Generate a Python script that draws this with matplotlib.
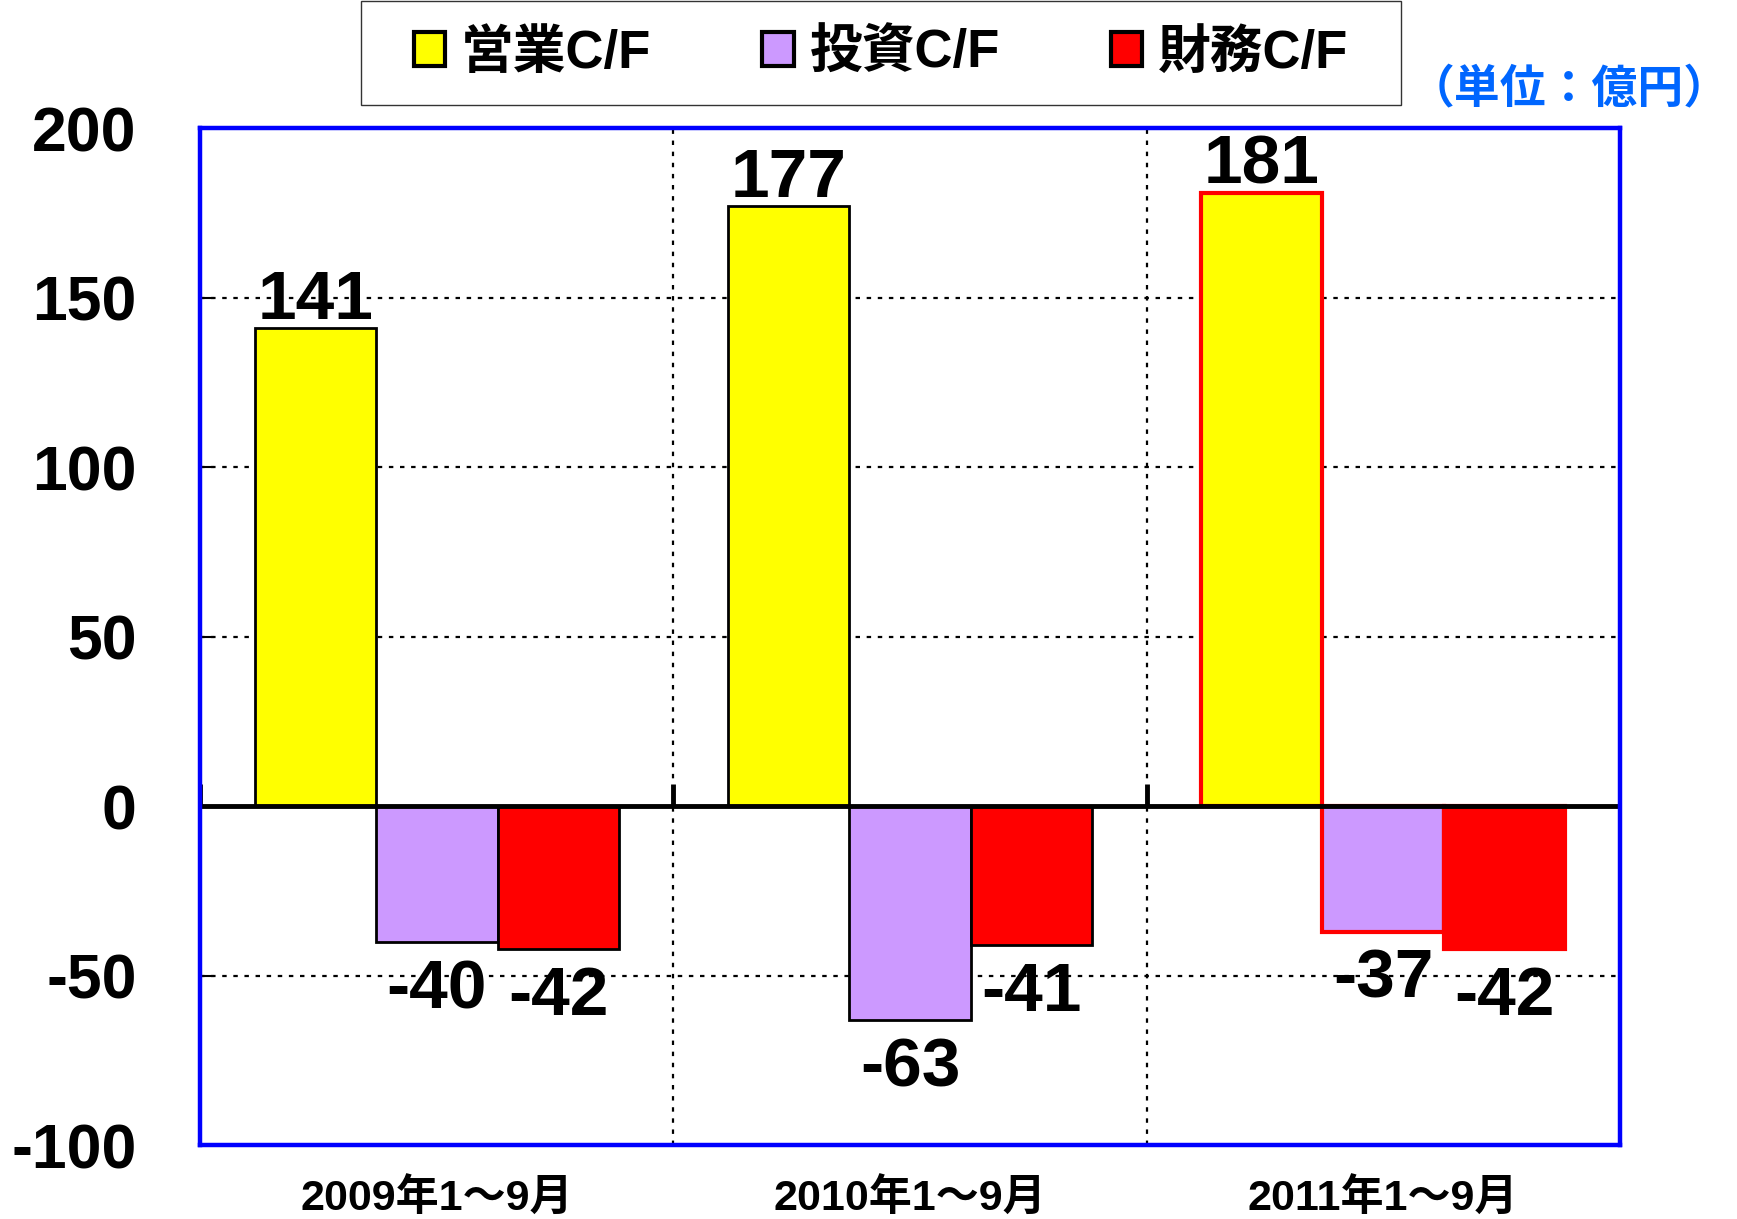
import numpy as np
import matplotlib
matplotlib.use("Agg")
import matplotlib.pyplot as plt
from matplotlib.patches import Patch, Rectangle

plt.rcParams['font.family'] = ['Liberation Sans', 'Noto Sans CJK JP', 'DejaVu Sans']

categories = ["2009年1～9月", "2010年1～9月", "2011年1～9月"]
series_names = ["営業C/F", "投資C/F", "財務C/F"]
operating = [141, 177, 181]
investing = [-40, -63, -37]
financing = [-42, -41, -42]
series_colors = ["#FFFF00", "#CC99FF", "#FF0000"]
edge_colors = ["#000000", "#000000", "#FF0000"]  # per category
yticks = [-100, -50, 0, 50, 100, 150, 200]
unit_label = "（単位：億円）"

fig = plt.figure(figsize=(17.37, 12.19), dpi=100)
ax = fig.add_axes([0.1154, 0.0603, 0.817, 0.8343])

n = len(categories)
centers = np.arange(n) + 0.5
width = 0.257
series = [operating, investing, financing]
offsets = [-width, 0, width]

for si, (vals, col, off) in enumerate(zip(series, series_colors, offsets)):
    for ci, v in enumerate(vals):
        ec = edge_colors[ci]
        lw = 2.0 if ec == "#000000" else 3.0
        ax.bar(centers[ci] + off, v, width=width, color=col, edgecolor=ec,
               linewidth=lw, zorder=3)
        if v >= 0:
            ax.annotate(str(v), (centers[ci] + off, v), xytext=(0, -3.5),
                        textcoords='offset points', ha='center', va='bottom',
                        fontsize=50, fontweight='bold', zorder=5)
        else:
            ax.annotate(str(v), (centers[ci] + off, v), xytext=(0, -11.5),
                        textcoords='offset points', ha='center', va='top',
                        fontsize=50, fontweight='bold', zorder=5)

ax.set_xlim(0, n)
ax.set_ylim(yticks[0], yticks[-1])
ax.set_yticks(yticks)
ax.set_yticklabels([str(t) for t in yticks], fontsize=45, fontweight='bold')
ax.tick_params(axis='y', direction='in', length=10, width=1.5, color='black', pad=46)

ax.set_xticks(centers)
ax.set_xticklabels(categories, fontsize=31, fontweight='bold')
ax.tick_params(axis='x', length=0, pad=24)

# gridlines
for t in yticks:
    if t not in (0, yticks[0], yticks[-1]):
        ax.axhline(t, color='black', linestyle=(0, (2, 3)), linewidth=1.6, zorder=1)
for b in np.arange(1, n):
    ax.axvline(b, color='black', linestyle=(0, (2, 3)), linewidth=1.6, zorder=1)

# zero line with small ticks
ax.axhline(0, color='black', linewidth=3.5, zorder=4)
ax.vlines(np.arange(0, n + 1), 0, 6.5, color='black', linewidth=3.5, zorder=4)

for s in ax.spines.values():
    s.set_color('#0000FF')
    s.set_linewidth(3.2)
    s.set_zorder(6)

# legend frame
fig.patches.append(Rectangle((0.2078, 0.9139), 0.5988, 0.0855, transform=fig.transFigure,
                             facecolor='white', edgecolor='#333333', linewidth=1.0,
                             zorder=0))
handles = [Patch(facecolor=c, edgecolor='black', linewidth=3) for c in series_colors]
leg = fig.legend(handles, series_names, loc='center',
                 bbox_to_anchor=(0.5072, 0.956),
                 ncol=3, frameon=False,
                 handlelength=0.6, handleheight=0.6, handletextpad=0.3,
                 borderaxespad=0, borderpad=0, columnspacing=2.1,
                 prop={'size': 38, 'weight': 'bold'})

fig.text(0.996, 0.926, unit_label, ha='right', va='center', fontsize=33,
         fontweight='bold', color='#0066FF')

fig.savefig("out.png", dpi=100)
